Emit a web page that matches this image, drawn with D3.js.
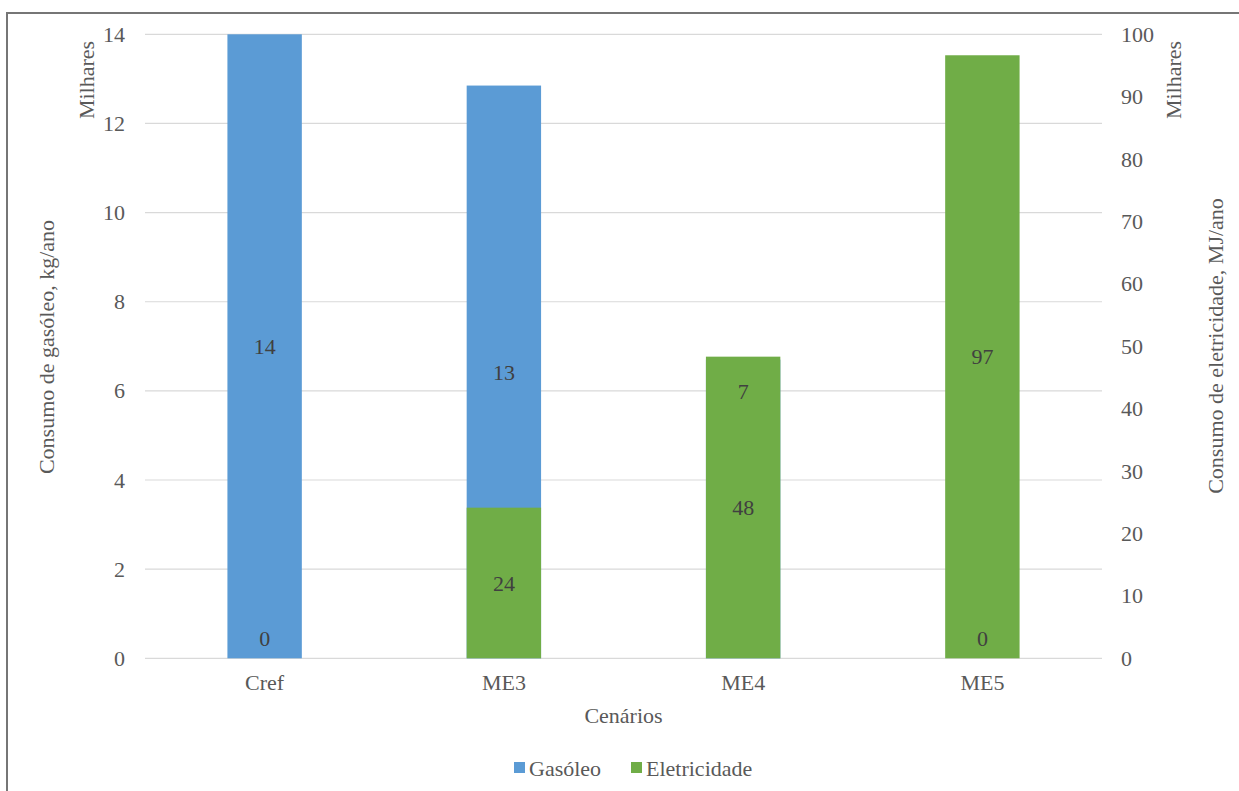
<!DOCTYPE html>
<html lang="pt">
<head>
<meta charset="utf-8">
<script src="https://cdn.jsdelivr.net/npm/d3@7"></script>
<style>
  html, body { margin: 0; padding: 0; background: #fff; }
  svg { display: block; }
</style>
</head>
<body>
<svg id="chart" width="1239" height="791"></svg>
<script>
// Scenarios and annual consumption (thousands)
const categories = ["Cref", "ME3", "ME4", "ME5"];
const gasoleo = [14.0, 12.85, 6.7, 0];          // kg/ano (milhares), primary axis
const eletricidade = [0, 24.14, 48.34, 96.64];   // MJ/ano (milhares), secondary axis
const leftTicks = [0, 2, 4, 6, 8, 10, 12, 14];
const rightTicks = [0, 10, 20, 30, 40, 50, 60, 70, 80, 90, 100];
const seriesNames = ["Gasóleo", "Eletricidade"];

const colors = { gas: "#5B9BD5", ele: "#70AD47" };
const textColor = "#595959";
const labelColor = "#404040";
const fontSize = 22;
const fontFamily = "'Liberation Serif', 'Times New Roman', serif";

const svg = d3.select("#chart");

function styleText(sel, color) {
  return sel.attr("font-family", fontFamily)
    .attr("font-size", fontSize)
    .style("font-family", fontFamily)
    .style("font-size", fontSize + "px")
    .attr("fill", color || textColor);
}

// outer chart frame
svg.append("rect")
  .attr("x", 7).attr("y", 13)
  .attr("width", 1260).attr("height", 820)
  .attr("fill", "#fff").attr("stroke", "#767676").attr("stroke-width", 2);

const plot = { left: 145, right: 1102, top: 34.3, bottom: 658.3 };

const x = d3.scaleBand().domain(categories)
  .range([plot.left, plot.right]).paddingInner(0.689).paddingOuter(0.3445);
const yL = d3.scaleLinear().domain([0, 14]).range([plot.bottom, plot.top]);
const yR = d3.scaleLinear().domain([0, 100]).range([plot.bottom, plot.top]);

// gridlines
svg.append("g").selectAll("line").data(leftTicks).join("line")
  .attr("x1", plot.left).attr("x2", plot.right)
  .attr("y1", d => yL(d)).attr("y2", d => yL(d))
  .attr("stroke", "#d9d9d9").attr("stroke-width", 1.2);

// left axis
const axL = svg.append("g")
  .attr("transform", `translate(${plot.left - 20},0)`)
  .call(d3.axisLeft(yL).tickValues(leftTicks).tickSize(0).tickPadding(0));
axL.select(".domain").remove();
styleText(axL.selectAll("text"));

// right axis
const axR = svg.append("g")
  .attr("transform", `translate(${plot.right + 19},0)`)
  .call(d3.axisRight(yR).tickValues(rightTicks).tickSize(0).tickPadding(0));
axR.select(".domain").remove();
styleText(axR.selectAll("text"));

// category axis
const axB = svg.append("g")
  .attr("transform", `translate(0,${plot.bottom})`)
  .call(d3.axisBottom(x).tickSize(0).tickPadding(16));
axB.select(".domain").remove();
styleText(axB.selectAll("text"));

// bars: gasóleo on the primary axis, eletricidade over it on the secondary axis
const gasData = categories.map((c, i) => ({ c, v: gasoleo[i] }));
const eleData = categories.map((c, i) => ({ c, v: eletricidade[i] }));

svg.append("g").selectAll("rect").data(gasData).join("rect")
  .attr("x", d => x(d.c)).attr("width", x.bandwidth())
  .attr("y", d => yL(d.v)).attr("height", d => yL(0) - yL(d.v))
  .attr("fill", colors.gas);

svg.append("g").selectAll("rect").data(eleData).join("rect")
  .attr("x", d => x(d.c)).attr("width", x.bandwidth())
  .attr("y", d => yR(d.v)).attr("height", d => yR(0) - yR(d.v))
  .attr("fill", colors.ele);

// centred value labels; zero values sit just above the baseline
function midY(scale, v) {
  return Math.min((scale(0) + scale(v)) / 2, scale(0) - 20);
}
const labels = [];
categories.forEach((c, i) => {
  const ey = midY(yR, eletricidade[i]);
  let gy = midY(yL, gasoleo[i]);
  // lift the gasóleo label when it would collide with the eletricidade label
  if (gasoleo[i] > 0 && eletricidade[i] > 0 && Math.abs(gy - ey) < 26) {
    gy = yL(gasoleo[i] * 0.895);
  }
  labels.push({ c, y: gy, t: d3.format(".0f")(gasoleo[i]) });
  labels.push({ c, y: ey, t: d3.format(".0f")(eletricidade[i]) });
});
styleText(svg.append("g").selectAll("text").data(labels).join("text")
  .attr("x", d => x(d.c) + x.bandwidth() / 2)
  .attr("y", d => d.y)
  .attr("dy", "0.35em")
  .attr("text-anchor", "middle")
  .text(d => d.t), labelColor);

// axis titles
function vText(tx, ty, str) {
  styleText(svg.append("text")
    .attr("transform", `translate(${tx},${ty}) rotate(-90)`)
    .attr("text-anchor", "middle").attr("dy", "0.35em")
    .text(str));
}
vText(86, 80, "Milhares");
vText(1173, 80, "Milhares");
vText(46, 347, "Consumo de gasóleo, kg/ano");
vText(1215, 346, "Consumo de eletricidade,  MJ/ano");

styleText(svg.append("text")
  .attr("x", (plot.left + plot.right) / 2).attr("y", 715)
  .attr("dy", "0.35em").attr("text-anchor", "middle")
  .text("Cenários"));

// legend
const legend = svg.append("g");
const legendItems = [
  { name: seriesNames[0], color: colors.gas, x: 514 },
  { name: seriesNames[1], color: colors.ele, x: 631 }
];
legendItems.forEach(it => {
  legend.append("rect")
    .attr("x", it.x).attr("y", 762).attr("width", 11).attr("height", 11)
    .attr("fill", it.color);
  styleText(legend.append("text")
    .attr("x", it.x + 15).attr("y", 768).attr("dy", "0.35em")
    .text(it.name));
});
</script>
</body>
</html>
